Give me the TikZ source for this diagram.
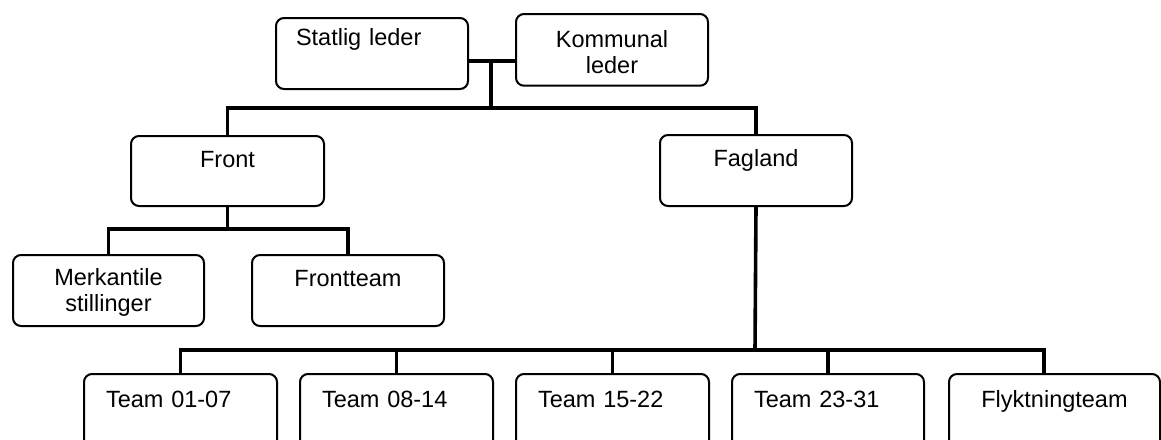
\documentclass[tikz,border=0pt]{standalone}
\usepackage{fontspec}
\setmainfont{Liberation Sans}
\usepackage{tikz}
\usetikzlibrary{positioning,calc}
\newcommand\orgfont{\fontsize{11.75}{13}\selectfont}
\tikzset{
  orgbox/.style={draw=black, line width=1pt, rounded corners=4pt,
                 anchor=north west, inner xsep=0pt, inner ysep=0pt,
                 align=center, font=\orgfont},
  leftbox/.style={orgbox, inner xsep=11pt, align=left},
  teambox/.style={leftbox, text width=74.5pt,
                  text height=16.5pt, text depth=40pt},
  bus/.style={line width=1.8pt}
}

\begin{document}
\begin{tikzpicture}[x=0.5pt,y=-0.5pt]
  \clip (0,0) rectangle (1161,439);
  % ledelse
  \node[leftbox,inner xsep=10pt,text width=76pt,text height=14pt,text depth=21.5pt]
    (statlig) at (275,17) {Statlig leder};
  \node[orgbox,text width=96pt,text height=16.7pt,text depth=19.15pt]
    (kommunal) at (515,13) {Kommunal\\leder};
  % avdelinger
  \node[orgbox,text width=96.5pt,text height=15.5pt,text depth=19.5pt]
    (front) at (130,135) {Front};
  \node[orgbox,text width=96pt,text height=15.5pt,text depth=20pt]
    (fagland) at (659,134) {Fagland};
  \node[orgbox,text width=95.5pt,text height=15pt,text depth=20.5pt]
    (merk) at (12,254) {Merkantile\\stillinger};
  \node[orgbox,text width=96pt,text height=15.85pt,text depth=19.65pt]
    (frontteam) at (251,254) {Frontteam};
  % team
  \node[teambox] (team1) at (83,373) {Team 01-07};
  \node[teambox] (team2) at (299,373) {Team 08-14};
  \node[teambox] (team3) at (515,373) {Team 15-22};
  \node[teambox,text width=74pt] (team4) at (731,373) {Team 23-31};
  \node[orgbox,text width=105.5pt,text height=16.5pt,text depth=40pt]
    (flykt) at (948,373) {Flyktningteam};

  % linjer
  \coordinate (lead) at (491,61);
  \coordinate (topbus) at (491,108);
  \coordinate (frontbus) at (227,229);
  \coordinate (teambus) at (755,350);
  \draw[bus] (statlig.east |- lead) -- (kommunal.west |- lead);
  \draw[bus] (lead) -- (topbus);
  \draw[bus] (front.north) |- (topbus) -| (fagland.north);
  \draw[bus] (front.south) -- (front.south |- frontbus);
  \draw[bus] (merk.north) |- (frontbus) -| (frontteam.north);
  \draw[bus] (fagland.south) -- (teambus);
  \draw[bus] (team1.north) |- (teambus) -| ([xshift=-5.25pt]flykt.north);
  \draw[bus] (team2.north) -- (team2.north |- teambus);
  \draw[bus] (team3.north) -- (team3.north |- teambus);
  \draw[bus] (team4.north) -- (team4.north |- teambus);
\end{tikzpicture}
\end{document}
